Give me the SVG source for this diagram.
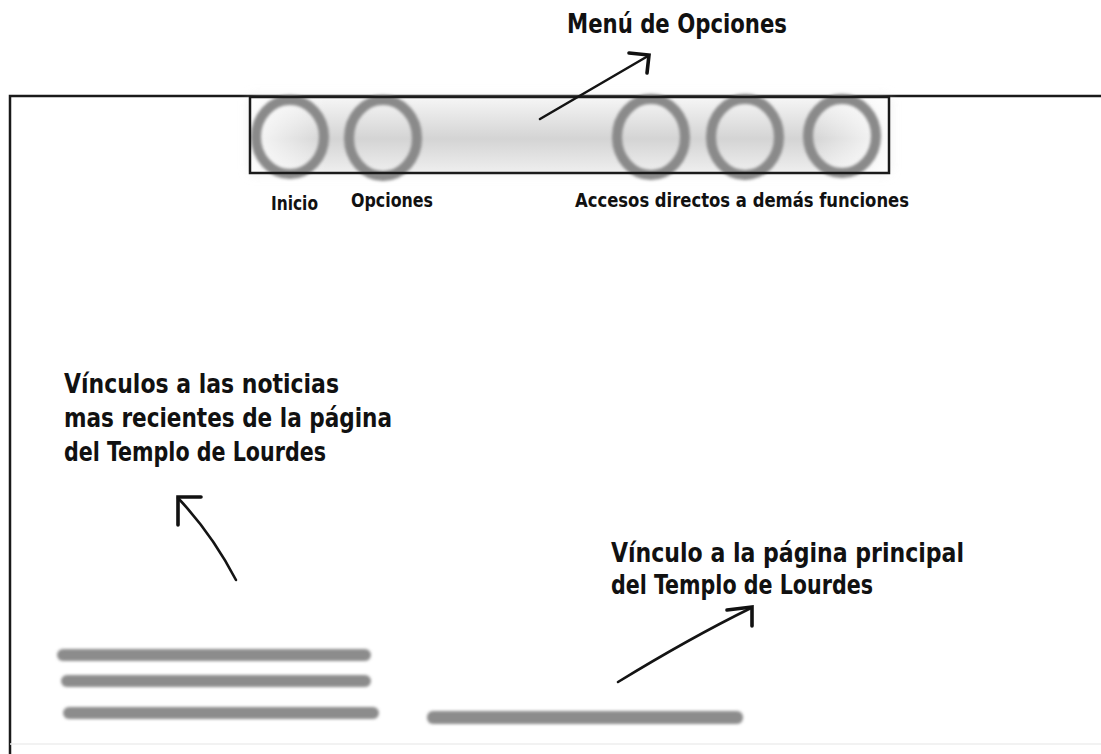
<svg xmlns="http://www.w3.org/2000/svg" width="1101" height="754" viewBox="0 0 1101 754">
  <defs>
    <style>
      .lbl { font-family: "DejaVu Sans Condensed", "DejaVu Sans", "Liberation Sans", sans-serif; font-weight: bold; font-stretch: condensed; fill: #111; }
      .ring { fill: none; stroke: #8a8a8a; stroke-width: 10; filter: url(#soft); }
      .bar { fill: #8c8c8c; filter: url(#soft); }
      .arr { fill: none; stroke: #141414; stroke-width: 2.6; stroke-linecap: round; }
      .head { fill: none; stroke: #111; stroke-width: 3.6; stroke-linecap: round; stroke-linejoin: miter; }
    </style>
    <filter id="soft" x="-20%" y="-60%" width="140%" height="220%">
      <feGaussianBlur stdDeviation="1.8"/>
    </filter>
    <filter id="haze" x="-10%" y="-30%" width="120%" height="160%">
      <feGaussianBlur stdDeviation="6"/>
    </filter>
    <linearGradient id="boxV" x1="0" y1="0" x2="0" y2="1">
      <stop offset="0" stop-color="#f6f6f6"/>
      <stop offset="0.55" stop-color="#d4d4d4"/>
      <stop offset="1" stop-color="#efefef"/>
    </linearGradient>
    <linearGradient id="boxH" x1="0" y1="0" x2="1" y2="0">
      <stop offset="0" stop-color="#ffffff" stop-opacity="0.85"/>
      <stop offset="0.12" stop-color="#ffffff" stop-opacity="0"/>
      <stop offset="0.88" stop-color="#ffffff" stop-opacity="0"/>
      <stop offset="1" stop-color="#ffffff" stop-opacity="0.9"/>
    </linearGradient>
  </defs>

  <rect width="1101" height="754" fill="#ffffff"/>

  <g id="frame">
    <path d="M10,754 L10,96 L1101,96" fill="none" stroke="#1a1a1a" stroke-width="2.5"/>
    <line x1="10" y1="744" x2="1101" y2="744" stroke="#eeeeee" stroke-width="1.5"/>
  </g>

  <g id="menu-bar">
    <rect x="250" y="97" width="639" height="76" fill="#e0e0e0" filter="url(#haze)" opacity="0.6"/>
    <rect x="250" y="97" width="639" height="76" fill="url(#boxV)"/>
    <rect x="250" y="97" width="639" height="76" fill="url(#boxH)"/>
    <ellipse class="ring" cx="290" cy="137" rx="34" ry="37"/>
    <ellipse class="ring" cx="383" cy="138" rx="34" ry="38"/>
    <ellipse class="ring" cx="651" cy="137" rx="34" ry="38"/>
    <ellipse class="ring" cx="745" cy="137" rx="34" ry="38"/>
    <ellipse class="ring" cx="842" cy="136" rx="34" ry="37"/>
    <rect x="250" y="97" width="639" height="76" fill="none" stroke="#1a1a1a" stroke-width="2.5"/>
  </g>

  <g id="title">
    <text class="lbl" x="567" y="33" font-size="27" textLength="220" lengthAdjust="spacingAndGlyphs">Menú de Opciones</text>
  </g>

  <g id="labels-menu">
    <text class="lbl" x="271" y="210" font-size="20" textLength="47" lengthAdjust="spacingAndGlyphs">Inicio</text>
    <text class="lbl" x="351" y="207" font-size="20" textLength="82" lengthAdjust="spacingAndGlyphs">Opciones</text>
    <text class="lbl" x="575" y="207" font-size="20" textLength="334" lengthAdjust="spacingAndGlyphs">Accesos directos a demás funciones</text>
  </g>

  <g id="news-note">
    <text class="lbl" x="64" y="393" font-size="27" textLength="275" lengthAdjust="spacingAndGlyphs">Vínculos a las noticias</text>
    <text class="lbl" x="64" y="427" font-size="27" textLength="328" lengthAdjust="spacingAndGlyphs">mas recientes de la página</text>
    <text class="lbl" x="64" y="461" font-size="27" textLength="262" lengthAdjust="spacingAndGlyphs">del Templo de Lourdes</text>
  </g>

  <g id="main-note">
    <text class="lbl" x="611" y="562" font-size="27" textLength="353" lengthAdjust="spacingAndGlyphs">Vínculo a la página principal</text>
    <text class="lbl" x="611" y="594" font-size="27" textLength="262" lengthAdjust="spacingAndGlyphs">del Templo de Lourdes</text>
  </g>

  <g id="news-bars">
    <rect class="bar" x="57" y="649" width="314" height="12" rx="6"/>
    <rect class="bar" x="61" y="675" width="310" height="12" rx="6"/>
    <rect class="bar" x="63" y="707" width="316" height="12" rx="6"/>
  </g>

  <g id="main-bar">
    <rect class="bar" x="427" y="711" width="316" height="13" rx="6"/>
  </g>

  <g id="connectors">
    <path class="arr" d="M540,119 Q600,84 648,56"/>
    <path class="head" d="M629,53 L649,55 L647,73"/>
    <path class="arr" d="M236,580 Q212,534 178,498" stroke="#333"/>
    <path class="head" d="M201,497 L178,497 L178,525"/>
    <path class="arr" d="M618,682 Q690,638 751,608"/>
    <path class="head" d="M727,610 L752,607 L752,626"/>
  </g>
</svg>
